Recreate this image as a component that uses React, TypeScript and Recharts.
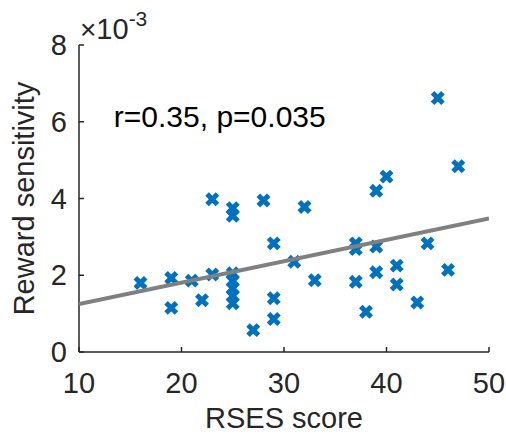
import { ComposedChart, ReferenceDot, Scatter, XAxis, YAxis } from "recharts";

// RSES score vs reward sensitivity (values in units of 10^-3)
const rsesScores = [
  16, 19, 19, 21, 22, 23, 23, 25, 25, 25, 25, 25, 25, 25, 27, 28, 29, 29, 29,
  31, 32, 33, 37, 37, 37, 38, 39, 39, 39, 40, 41, 41, 43, 44, 45, 46, 47,
];
const rewardSensitivity = [
  1.8, 1.93, 1.15, 1.86, 1.35, 2.02, 3.98, 3.75, 3.55, 2.05, 1.85, 1.66, 1.46,
  1.27, 0.57, 3.95, 2.83, 1.4, 0.86, 2.35, 3.78, 1.87, 2.83, 2.68, 1.83, 1.05,
  4.2, 2.75, 2.08, 4.57, 2.25, 1.76, 1.29, 2.83, 6.62, 2.14, 4.84,
];

// least squares fit, endpoints
const fitX = [10, 50];
const fitY = [1.25, 3.48];

const xTicks = [10, 20, 30, 40, 50];
const yTicks = [0, 2, 4, 6, 8];
const statsText = "r=0.35, p=0.035";
const statsAt = { x: 13.4, y: 5.86 };

const FONT = '"Liberation Sans", Arial, Helvetica, sans-serif';
const INK = "#262626";
const BLUE = "#0072BD";
const FS = 29;

const points = rsesScores.map((x, i) => ({ x, y: rewardSensitivity[i] }));
const fitLine = fitX.map((x, i) => ({ x, y: fitY[i] }));

const Cross = ({ cx, cy }: any) => {
  const a = 5.2;
  return (
    <path
      d={`M${cx - a},${cy - a}L${cx + a},${cy + a}M${cx - a},${cy + a}L${cx + a},${cy - a}`}
      stroke={BLUE}
      strokeWidth={5}
      fill="none"
    />
  );
};

const XTick = ({ x, y, payload }: any) => (
  <g>
    <line x1={x} y1={y} x2={x} y2={y - 5} stroke={INK} strokeWidth={1.5} />
    <text x={x} y={y + 41} textAnchor="middle" fontSize={FS} fontFamily={FONT} fill={INK}>
      {payload.value}
    </text>
  </g>
);

const YTick = ({ x, y, payload }: any) => (
  <g>
    <line x1={x} y1={y} x2={x + 5} y2={y} stroke={INK} strokeWidth={1.5} />
    <text x={x - 12} y={y + 10} textAnchor="end" fontSize={FS} fontFamily={FONT} fill={INK}>
      {payload.value}
    </text>
  </g>
);

const XLabel = ({ viewBox }: any) => (
  <text
    x={viewBox.x + viewBox.width / 2}
    y={viewBox.y + 76}
    textAnchor="middle"
    fontSize={FS}
    fontFamily={FONT}
    fill={INK}
  >
    RSES score
  </text>
);

const YLabel = ({ viewBox }: any) => {
  const cx = viewBox.x + 34;
  const cy = viewBox.y + viewBox.height / 2;
  return (
    <g>
      <text
        x={cx}
        y={cy}
        transform={`rotate(-90, ${cx}, ${cy})`}
        textAnchor="middle"
        fontSize={FS}
        fontFamily={FONT}
        fill={INK}
      >
        Reward sensitivity
      </text>
      <text x={viewBox.x + viewBox.width + 1} y={viewBox.y - 6} fontFamily={FONT} fill={INK}>
        <tspan fontSize={28} fontWeight={300}>×</tspan>
        <tspan fontSize={FS}>10</tspan>
        <tspan fontSize={21} dy={-13}>
          -3
        </tspan>
      </text>
    </g>
  );
};

const StatsLabel = ({ viewBox }: any) => (
  <text x={viewBox.x} y={viewBox.y} fontSize={30} fontFamily={FONT} fill="#000">
    {statsText}
  </text>
);

export default function App() {
  return (
    <div style={{ position: "absolute", left: 0, top: 0, background: "#fff" }}>
      <ComposedChart
        width={506}
        height={434}
        data={points}
        margin={{ top: 45, right: 17, bottom: 0, left: 0 }}
      >
        <XAxis
          dataKey="x"
          type="number"
          domain={[10, 50]}
          ticks={xTicks}
          interval={0}
          height={82}
          tickSize={0}
          tickMargin={0}
          tickLine={false}
          axisLine={{ stroke: INK, strokeWidth: 1.5 }}
          tick={<XTick />}
          label={{ content: XLabel }}
          allowDataOverflow
        />
        <YAxis
          dataKey="y"
          type="number"
          domain={[0, 8]}
          ticks={yTicks}
          interval={0}
          width={79}
          tickSize={0}
          tickMargin={0}
          tickLine={false}
          axisLine={{ stroke: INK, strokeWidth: 1.5 }}
          tick={<YTick />}
          label={{ content: YLabel }}
          allowDataOverflow
        />
        <Scatter data={points} dataKey="y" shape={<Cross />} isAnimationActive={false} />
        <Scatter
          data={fitLine}
          dataKey="y"
          line={{ stroke: "#808080", strokeWidth: 4 }}
          shape={() => <g />}
          isAnimationActive={false}
        />
        <ReferenceDot
          x={statsAt.x}
          y={statsAt.y}
          r={0}
          fill="none"
          stroke="none"
          label={{ content: StatsLabel }}
        />
      </ComposedChart>
    </div>
  );
}
